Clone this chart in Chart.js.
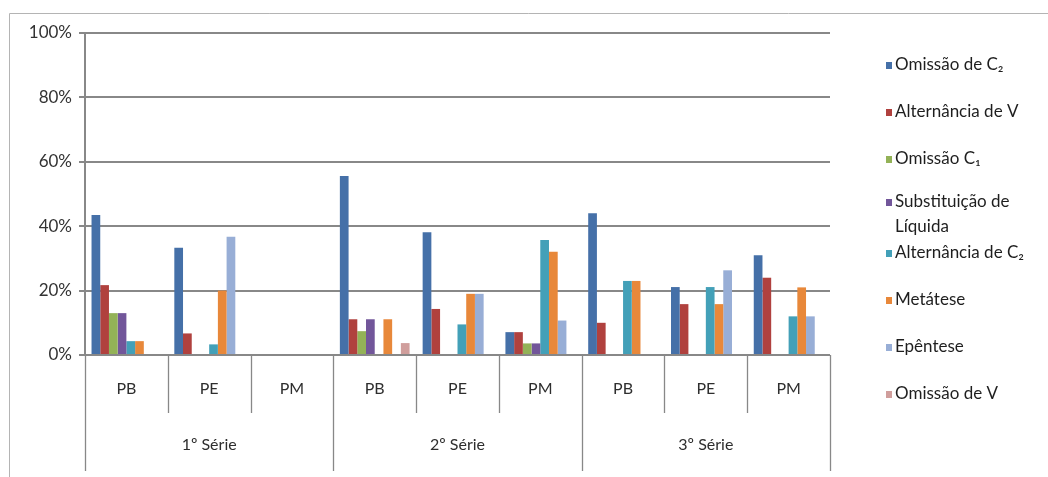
<!DOCTYPE html>
<html>
<head>
<meta charset="utf-8">
<script src="https://cdn.jsdelivr.net/npm/chart.js@4.4.1/dist/chart.umd.min.js"></script>
<style>
  html, body { margin: 0; padding: 0; background: #fff; }
  #wrap { width: 1048px; height: 477px; }
</style>
</head>
<body>
<div id="wrap"><canvas id="c" width="1048" height="477"></canvas></div>
<script>
// Categories: school level (PB / PE / PM) inside each grade
const subCategories = ['PB', 'PE', 'PM', 'PB', 'PE', 'PM', 'PB', 'PE', 'PM'];
const grades = ['1º Série', '2º Série', '3º Série'];
const yTicks = [0, 20, 40, 60, 80, 100];

// Error types (legend order)
const seriesNames = [
  'Omissão de C₂',
  'Alternância de V',
  'Omissão C₁',
  ['Substituição de', 'Líquida'],
  'Alternância de C₂',
  'Metátese',
  'Epêntese',
  'Omissão de V'
];

// Percentages per category (null = no occurrence)
const omissaoC2      = [43.5, 33.3, null, 55.6, 38.1,  7.1, 44.0, 21.1, 31.0];
const alternanciaV   = [21.7,  6.7, null, 11.1, 14.3,  7.1, 10.0, 15.8, 24.0];
const omissaoC1      = [13.0, null, null,  7.4, null,  3.6, null, null, null];
const substLiquida   = [13.0, null, null, 11.1, null,  3.6, null, null, null];
const alternanciaC2  = [ 4.3,  3.3, null, null,  9.5, 35.7, 23.0, 21.1, 12.0];
const metatese       = [ 4.3, 20.0, null, 11.1, 19.0, 32.1, 23.0, 15.8, 21.0];
const epentese       = [null, 36.7, null, null, 19.0, 10.7, null, 26.3, 12.0];
const omissaoV       = [null, null, null,  3.7, null, null, null, null, null];

const seriesValues = [omissaoC2, alternanciaV, omissaoC1, substLiquida,
                      alternanciaC2, metatese, epentese, omissaoV];
const seriesColors = ['#4570a8', '#b0413e', '#93b257', '#72569a',
                      '#43a0b8', '#e8883a', '#98aed6', '#d09e9c'];

const FONT = 'Lato, "Open Sans", sans-serif';
const LINE = '#888888';

// Sheet frame, extended value axis and the two-level category axis
const categoryAxisPlugin = {
  id: 'categoryAxis',
  afterDraw(chart) {
    const ctx = chart.ctx;
    const area = chart.chartArea;
    const x = chart.scales.x;
    const n = subCategories.length;
    const w = (x.right - x.left) / n;
    const innerBottom = area.bottom + 58;
    const outerBottom = area.bottom + 116;

    ctx.save();
    // frame
    ctx.strokeStyle = '#b4b4b4';
    ctx.lineWidth = 1;
    ctx.beginPath();
    ctx.moveTo(9.5, chart.height);
    ctx.lineTo(9.5, 13.5);
    ctx.lineTo(chart.width, 13.5);
    ctx.stroke();

    ctx.strokeStyle = LINE;
    ctx.lineWidth = 1.3;
    ctx.beginPath();
    for (let k = 0; k <= n; k++) {
      const px = Math.round(x.left + k * w) + 0.5;
      ctx.moveTo(px, area.bottom);
      ctx.lineTo(px, k % 3 === 0 ? outerBottom : innerBottom);
    }
    ctx.stroke();

    ctx.fillStyle = '#2e2e2e';
    ctx.font = '16px ' + FONT;
    ctx.textAlign = 'center';
    ctx.textBaseline = 'middle';
    subCategories.forEach((lab, i) => {
      ctx.fillText(lab, x.getPixelForValue(i), area.bottom + 34);
    });
    grades.forEach((lab, g) => {
      const cx = x.left + (g * 3 + 1.5) * w;
      ctx.fillText(lab, cx, area.bottom + 90);
    });
    ctx.restore();
  }
};

// Legend on the right, one entry per series
const sideLegendPlugin = {
  id: 'sideLegend',
  afterDraw(chart) {
    const ctx = chart.ctx;
    const x0 = 886;
    const top = 65;
    const step = 47;
    ctx.save();
    ctx.font = '17px ' + FONT;
    ctx.textAlign = 'left';
    ctx.textBaseline = 'middle';
    chart.data.datasets.forEach((ds, i) => {
      const lines = Array.isArray(seriesNames[i]) ? seriesNames[i] : [seriesNames[i]];
      const y = top + i * step - (lines.length > 1 ? 4 : 0);
      ctx.fillStyle = ds.backgroundColor;
      ctx.fillRect(x0, Math.round(y - 3), 6, 7);
      ctx.fillStyle = '#1e1e1e';
      lines.forEach((t, j) => ctx.fillText(t, x0 + 9, y + j * 25));
    });
    ctx.restore();
  }
};

new Chart(document.getElementById('c'), {
  type: 'bar',
  data: {
    labels: subCategories,
    datasets: seriesValues.map((vals, i) => ({
      label: Array.isArray(seriesNames[i]) ? seriesNames[i].join(' ') : seriesNames[i],
      data: vals,
      backgroundColor: seriesColors[i],
      borderWidth: 0,
      barPercentage: 1,
      categoryPercentage: 8 / 9.5
    }))
  },
  options: {
    responsive: false,
    animation: false,
    devicePixelRatio: 1,
    layout: { padding: { top: 33, right: 218, bottom: 122, left: 0 } },
    plugins: {
      legend: { display: false },
      tooltip: { enabled: false }
    },
    scales: {
      x: { display: false },
      y: {
        min: 0,
        max: 100,
        afterFit(scale) { scale.width = 85; },
        afterBuildTicks(scale) { scale.ticks = yTicks.map(v => ({ value: v })); },
        ticks: {
          padding: 7,
          color: '#333333',
          font: { family: FONT, size: 17 },
          callback: v => v + '%'
        },
        grid: { color: LINE, lineWidth: 2, tickLength: 6, tickColor: LINE },
        border: { color: LINE, width: 2 }
      }
    }
  },
  plugins: [categoryAxisPlugin, sideLegendPlugin]
});
</script>
</body>
</html>
